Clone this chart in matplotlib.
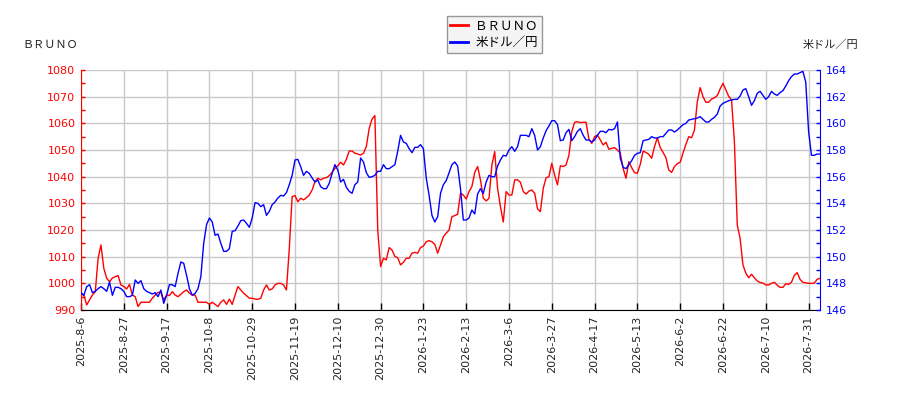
import matplotlib
matplotlib.use("Agg")
import matplotlib.pyplot as plt
from matplotlib.ticker import MultipleLocator, FixedLocator, FixedFormatter
from matplotlib.lines import Line2D

plt.rcParams['font.family'] = ['DejaVu Sans', 'Noto Sans CJK JP']

# x-axis tick labels (every 15 trading days)
tick_labels = ['2025-8-6', '2025-8-27', '2025-9-17', '2025-10-8', '2025-10-29',
               '2025-11-19', '2025-12-10', '2025-12-30', '2026-1-23', '2026-2-13',
               '2026-3-6', '2026-3-27', '2026-4-17', '2026-5-13', '2026-6-2',
               '2026-6-22', '2026-7-10', '2026-7-31']

series_names = ['ＢＲＵＮＯ', '米ドル／円']

bruno = [
    996.0, 995.6, 991.9, 993.8, 995.6, 996.9, 1009.4, 1014.4, 1005.6, 1001.9,
    1000.6, 1002.0, 1002.5, 1002.9, 999.4, 998.8, 997.9, 999.6, 995.6, 995.0,
    991.3, 992.9, 992.9, 992.9, 992.9, 994.4, 995.6, 996.6, 996.6, 993.8,
    995.6, 995.4, 996.9, 995.6, 995.0, 995.9, 996.9, 997.5, 996.3, 995.6,
    995.6, 992.9, 992.9, 992.9, 992.9, 992.1, 992.9, 992.1, 991.3, 992.9,
    993.8, 992.1, 994.1, 992.1, 995.6, 998.8, 997.5, 996.3, 995.4, 994.4,
    994.4, 994.1, 994.0, 994.4, 997.5, 999.4, 997.5, 997.9, 999.4, 1000.0,
    1000.0, 999.4, 997.5, 1013.0, 1032.5, 1032.9, 1030.6, 1031.9, 1031.3, 1032.1,
    1033.1, 1035.0, 1038.1, 1039.4, 1038.8, 1039.4, 1039.6, 1040.4, 1041.6, 1043.1,
    1044.1, 1045.4, 1044.4, 1046.5, 1049.6, 1049.6, 1048.8, 1048.5, 1048.1, 1048.8,
    1051.3, 1058.1, 1061.6, 1062.9, 1020.0, 1006.3, 1009.4, 1008.8, 1013.4, 1012.5,
    1010.1, 1009.6, 1006.9, 1007.9, 1009.4, 1009.4, 1011.3, 1011.6, 1011.3, 1013.4,
    1014.0, 1015.6, 1016.0, 1015.6, 1014.6, 1011.3, 1014.4, 1017.5, 1018.8, 1020.0,
    1025.0, 1025.4, 1025.9, 1033.8, 1033.1, 1031.6, 1034.4, 1036.3, 1041.6, 1043.8,
    1038.8, 1031.9, 1030.9, 1031.9, 1044.4, 1049.4, 1035.6, 1028.8, 1023.0, 1034.4,
    1033.1, 1033.1, 1038.8, 1038.8, 1037.9, 1034.4, 1033.5, 1034.6, 1035.0, 1033.8,
    1027.9, 1026.9, 1035.6, 1039.6, 1040.0, 1045.0, 1040.6, 1036.9, 1044.1, 1043.8,
    1044.4, 1048.0, 1056.9, 1060.4, 1060.6, 1060.3, 1060.4, 1060.4, 1054.1, 1052.5,
    1055.0, 1055.6, 1053.8, 1051.9, 1052.9, 1050.3, 1050.6, 1050.9, 1050.0, 1048.8,
    1043.1, 1039.4, 1045.6, 1043.4, 1041.5, 1041.3, 1044.6, 1049.6, 1049.1, 1048.4,
    1046.9, 1051.3, 1054.6, 1050.9, 1049.1, 1047.1, 1042.5, 1041.6, 1043.8, 1044.9,
    1045.4, 1048.9, 1052.1, 1055.0, 1054.6, 1057.5, 1068.1, 1073.4, 1070.0, 1067.9,
    1067.9, 1069.1, 1069.6, 1070.4, 1072.9, 1075.0, 1072.5, 1070.1, 1068.8, 1053.1,
    1021.9, 1016.9, 1006.9, 1003.8, 1002.1, 1003.4, 1002.1, 1000.9, 1000.3, 1000.1,
    999.4, 999.4, 1000.0, 1000.4, 999.3, 998.5, 998.5, 999.8, 999.6, 1000.4,
    1003.0, 1004.0, 1001.5, 1000.4, 1000.2, 1000.0, 1000.0, 1000.1, 1001.5, 1001.9,
]

usdjpy = [
    147.3, 147.1, 147.75, 147.9, 147.3, 147.4, 147.6, 147.75, 147.6, 147.4,
    148.1, 147.1, 147.7, 147.7, 147.6, 147.4, 147.0, 147.0, 147.1, 148.25,
    148.0, 148.2, 147.6, 147.4, 147.3, 147.2, 147.3, 147.0, 147.5, 146.5,
    147.1, 147.9, 147.9, 147.75, 148.75, 149.6, 149.5, 148.6, 147.6, 147.1,
    147.25, 147.6, 148.5, 151.0, 152.4, 152.9, 152.6, 151.6, 151.7, 151.0,
    150.4, 150.4, 150.6, 151.9, 151.95, 152.3, 152.7, 152.75, 152.5, 152.2,
    152.9, 154.05, 154.0, 153.75, 153.9, 153.1, 153.4, 153.9, 154.1, 154.4,
    154.6, 154.55, 154.8, 155.4, 156.1, 157.25, 157.3, 156.75, 156.1, 156.4,
    156.25, 155.9, 155.6, 155.75, 155.25, 155.1, 155.1, 155.5, 156.25, 156.9,
    156.5, 155.6, 155.8, 155.2, 154.9, 154.75, 155.4, 155.6, 157.4, 157.1,
    156.3, 155.95, 156.0, 156.1, 156.4, 156.4, 156.9, 156.6, 156.6, 156.75,
    156.9, 157.9, 159.1, 158.6, 158.5, 158.1, 157.8, 158.2, 158.2, 158.4,
    158.1, 155.9, 154.6, 153.1, 152.6, 153.0, 154.75, 155.4, 155.7, 156.3,
    156.9, 157.1, 156.8, 155.1, 152.75, 152.75, 152.9, 153.5, 153.2, 154.7,
    155.1, 154.75, 155.6, 156.1, 156.0, 156.0, 156.8, 157.25, 157.6, 157.55,
    158.0, 158.25, 157.9, 158.25, 159.1, 159.1, 159.1, 159.0, 159.6, 159.1,
    158.0, 158.25, 158.9, 159.45, 159.8, 160.2, 160.2, 159.9, 158.7, 158.75,
    159.3, 159.55, 158.7, 159.0, 159.4, 159.6, 159.1, 158.75, 158.75, 158.6,
    158.75, 159.1, 159.4, 159.4, 159.3, 159.55, 159.5, 159.6, 160.1, 157.4,
    156.7, 156.6, 156.9, 157.2, 157.6, 157.75, 157.8, 158.7, 158.75, 158.8,
    159.0, 158.9, 158.9, 159.0, 159.0, 159.25, 159.5, 159.5, 159.35, 159.5,
    159.7, 159.9, 160.0, 160.25, 160.3, 160.35, 160.4, 160.5, 160.3, 160.1,
    160.1, 160.3, 160.45, 160.7, 161.3, 161.5, 161.6, 161.7, 161.75, 161.8,
    161.8, 162.05, 162.5, 162.6, 162.0, 161.35, 161.7, 162.25, 162.4, 162.1,
    161.8, 162.0, 162.4, 162.2, 162.1, 162.3, 162.45, 162.8, 163.2, 163.5,
    163.7, 163.7, 163.8, 163.9, 163.1, 159.4, 157.6, 157.6, 157.7, 157.7,
]

fig = plt.figure(figsize=(9, 4), dpi=100)
ax = fig.add_axes([81 / 900, 90 / 400, 739 / 900, 240 / 400])
x = list(range(len(bruno)))
ax.plot(x, bruno, color='#ff0000', lw=1.0, zorder=3)
ax2 = ax.twinx()
ax2.plot(x, usdjpy, color='#0000ff', lw=1.0, zorder=3)

ax.set_xlim(0, len(bruno) - 1)
ax.set_ylim(990, 1080)
ax2.set_ylim(146, 164)

# x ticks
xt = [i * 15 for i in range(len(tick_labels))]
ax.xaxis.set_major_locator(FixedLocator(xt))
ax.xaxis.set_major_formatter(FixedFormatter(tick_labels))
ax.tick_params(axis='x', direction='in', length=5, width=1, color='black',
               labelsize=8, rotation=90, pad=4, labelcolor='#222222')

# left y ticks
ax.yaxis.set_major_locator(MultipleLocator(10))
ax.yaxis.set_minor_locator(MultipleLocator(5))
ax.tick_params(axis='y', which='both', direction='in', length=3, width=1,
               color='red', labelcolor='red', labelsize=8, pad=4)

# right y ticks
ax2.yaxis.set_major_locator(MultipleLocator(2))
ax2.yaxis.set_minor_locator(MultipleLocator(1))
ax2.tick_params(axis='y', which='both', direction='in', length=3, width=1,
                color='blue', labelcolor='blue', labelsize=8, pad=4)

ax.grid(True, which='major', color='#c8c8c8', lw=1.0, zorder=0)
ax.set_axisbelow(True)

for a in (ax, ax2):
    a.spines['top'].set_visible(False)
ax.spines['left'].set_color('red')
ax.spines['bottom'].set_color('black')
ax2.spines['right'].set_color('blue')
ax2.spines['left'].set_visible(False)
ax2.spines['bottom'].set_visible(False)
ax.spines['right'].set_visible(False)

fig.text(22 / 900, 1 - 45 / 400, series_names[0], fontsize=8, ha='left', va='center',
         family=['Noto Sans CJK JP', 'DejaVu Sans'], color='#222222')
fig.text(858 / 900, 1 - 45 / 400, series_names[1], fontsize=8, ha='right', va='center',
         family=['Noto Sans CJK JP', 'DejaVu Sans'], color='#222222')

handles = [Line2D([], [], color='#ff0000', lw=2), Line2D([], [], color='#0000ff', lw=2)]
leg = fig.legend(handles, series_names, loc='upper center',
                 bbox_to_anchor=(494 / 900, 1 - 16 / 400), frameon=True, fancybox=False,
                 prop={'family': ['Noto Sans CJK JP', 'DejaVu Sans'], 'size': 9},
                 handlelength=1.4, handletextpad=0.6, borderpad=0.3, labelspacing=0.25,
                 borderaxespad=0)
leg.get_frame().set_edgecolor('#808080')
leg.get_frame().set_facecolor('#f2f2f2')
leg.get_frame().set_linewidth(1.0)

fig.savefig('out.png', dpi=100)
